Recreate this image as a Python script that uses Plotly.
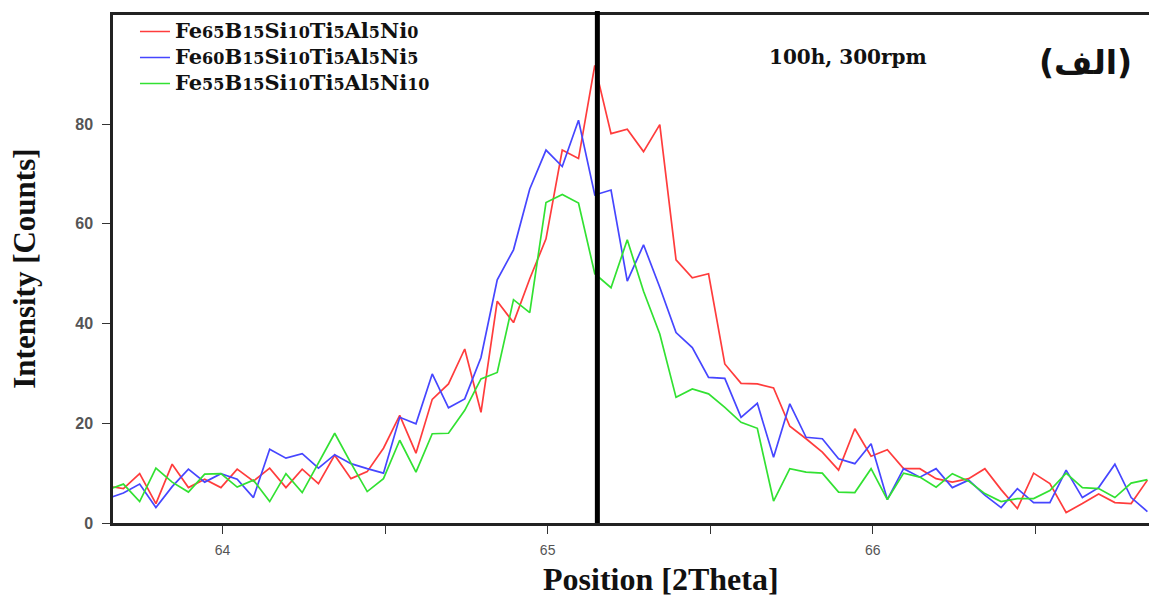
import plotly.graph_objects as go

# ---- data ----
theta_start = 63.645
theta_step = 0.05
n_points = 65
position = [round(theta_start + theta_step * i, 3) for i in range(n_points)]

ni0 = [7.4, 6.9, 9.9, 3.9, 11.8, 7.1, 8.8, 7.1, 10.8, 8.4, 11.0, 7.1, 10.8, 7.9, 13.6, 8.9,
       10.3, 15.0, 21.6, 14.0, 24.8, 27.9, 34.9, 22.2, 44.5, 40.2, 49.0, 57.0, 74.8, 73.1,
       91.8, 78.1, 79.0, 74.5, 79.9, 52.8, 49.2, 50.0, 31.9, 28.0, 27.9, 27.1, 19.4, 16.9,
       14.2, 10.6, 18.9, 13.4, 14.7, 10.9, 10.9, 8.9, 8.2, 8.9, 10.9, 6.7, 2.9, 10.0, 7.9,
       2.1, 3.9, 5.8, 4.1, 3.9, 8.6]
ni5 = [4.9, 6.0, 7.8, 3.1, 7.3, 10.8, 8.2, 9.9, 8.8, 5.1, 14.8, 13.0, 13.9, 11.0, 13.7, 11.9,
       10.9, 10.0, 21.2, 19.9, 29.9, 23.1, 24.9, 33.2, 48.8, 54.8, 67.0, 74.8, 71.5, 80.8,
       65.8, 66.8, 48.5, 55.8, 47.3, 38.2, 35.2, 29.2, 29.0, 21.2, 24.0, 13.2, 23.9, 17.2,
       16.9, 12.9, 11.9, 15.9, 4.7, 10.9, 9.2, 10.9, 7.1, 8.6, 5.6, 3.1, 6.9, 4.1, 4.1,
       10.6, 5.1, 7.1, 11.8, 5.1, 2.3]
ni10 = [6.6, 7.8, 4.3, 11.0, 8.2, 6.2, 9.8, 9.9, 7.2, 8.6, 4.3, 9.9, 6.1, 12.2, 18.0, 12.0,
        6.3, 8.9, 16.6, 10.2, 17.9, 18.0, 22.6, 28.9, 30.2, 44.8, 42.2, 64.3, 65.9, 64.2,
        50.0, 47.2, 56.8, 46.5, 37.9, 25.2, 26.9, 25.9, 23.2, 20.2, 19.0, 4.4, 10.9, 10.2,
        10.0, 6.2, 6.1, 10.9, 4.7, 10.0, 9.2, 7.2, 9.9, 8.4, 5.9, 4.3, 4.9, 4.9, 6.5,
        10.0, 7.1, 6.9, 5.1, 8.0, 8.7]


def formula(parts):
    out = ""
    for elem, num in parts:
        out += elem + "<span style='font-size:16px'>" + num + "</span>"
    return "<span style='font-size:21px'><b>" + out + "</b></span>"


series_names = [
    formula([("Fe", "65"), ("B", "15"), ("Si", "10"), ("Ti", "5"), ("Al", "5"), ("Ni", "0")]),
    formula([("Fe", "60"), ("B", "15"), ("Si", "10"), ("Ti", "5"), ("Al", "5"), ("Ni", "5")]),
    formula([("Fe", "55"), ("B", "15"), ("Si", "10"), ("Ti", "5"), ("Al", "5"), ("Ni", "10")]),
]
series_colors = ["rgb(255,60,60)", "rgb(70,70,255)", "rgb(50,225,50)"]

x_tick_vals = [64, 64.5, 65, 65.5, 66, 66.5]
x_tick_text = ["64", "", "65", "", "66", ""]
y_tick_vals = [0, 20, 40, 60, 80]

reference_line_x = 65.153

# ---- figure ----
fig = go.Figure()
for name, vals, col in zip(series_names, [ni0, ni5, ni10], series_colors):
    fig.add_trace(go.Scatter(x=position, y=vals, mode="lines", name=name,
                             line=dict(color=col, width=1.7)))

fig.add_shape(type="line", xref="x", yref="paper", x0=reference_line_x, x1=reference_line_x,
              y0=0, y1=1.008, line=dict(color="black", width=5), layer="above")

serif = "Liberation Serif, Times New Roman, serif"
wide_serif = "DejaVu Serif, Liberation Serif, serif"

fig.add_annotation(text="<b>100h, 300rpm</b>", xref="paper", yref="paper", x=0.7087, y=0.918,
                   xanchor="center", yanchor="middle",
                   showarrow=False, font=dict(family=wide_serif, size=20, color="#111"))
fig.add_annotation(text="<b>(الف)</b>", xref="paper", yref="paper", x=0.938, y=0.906,
                   xanchor="center", yanchor="middle",
                   showarrow=False, font=dict(family="DejaVu Sans, Noto Sans, sans-serif", size=33, color="#111"))
fig.add_annotation(text="<b>Intensity [Counts]</b>", xref="paper", yref="paper", x=-0.0856, y=0.501,
                   xanchor="center", yanchor="middle",
                   textangle=-90, showarrow=False, font=dict(family=serif, size=31, color="#111"))
fig.add_annotation(text="<b>Position [2Theta]</b>", xref="paper", yref="paper", x=0.5288, y=-0.1096,
                   xanchor="center", yanchor="middle",
                   showarrow=False, font=dict(family=serif, size=32, color="#111"))

fig.update_layout(
    width=1149, height=591,
    margin=dict(l=105, r=4, t=4, b=76),
    paper_bgcolor="white", plot_bgcolor="white",
    showlegend=True,
    legend=dict(x=0.0212, y=1.003, xanchor="left", yanchor="top", bgcolor="rgba(0,0,0,0)",
                font=dict(family=wide_serif, size=17.7, color="#111"), tracegroupgap=0,
                itemwidth=30),
    xaxis=dict(range=[63.663, 66.853], tickvals=x_tick_vals, ticktext=x_tick_text,
               showgrid=False, zeroline=False, showline=True, linecolor="#222", linewidth=2.5,
               mirror=True, ticks="outside", ticklen=8, tickwidth=1.2, tickcolor="#333",
               tickfont=dict(family="Liberation Sans Narrow, Arial Narrow, Liberation Sans, sans-serif",
                             size=14, color="#555"),
               ticklabelstandoff=4),
    yaxis=dict(range=[0, 101.9], tickvals=y_tick_vals,
               showgrid=False, zeroline=False, showline=True, linecolor="#222", linewidth=2.5,
               mirror=True, ticks="outside", ticklen=8, tickwidth=1.2, tickcolor="#333",
               tickfont=dict(family="Liberation Sans, Arial, sans-serif", size=16, color="#555",
                             weight="bold"),
               ticklabelstandoff=6),
)

fig.write_html("out.html")
